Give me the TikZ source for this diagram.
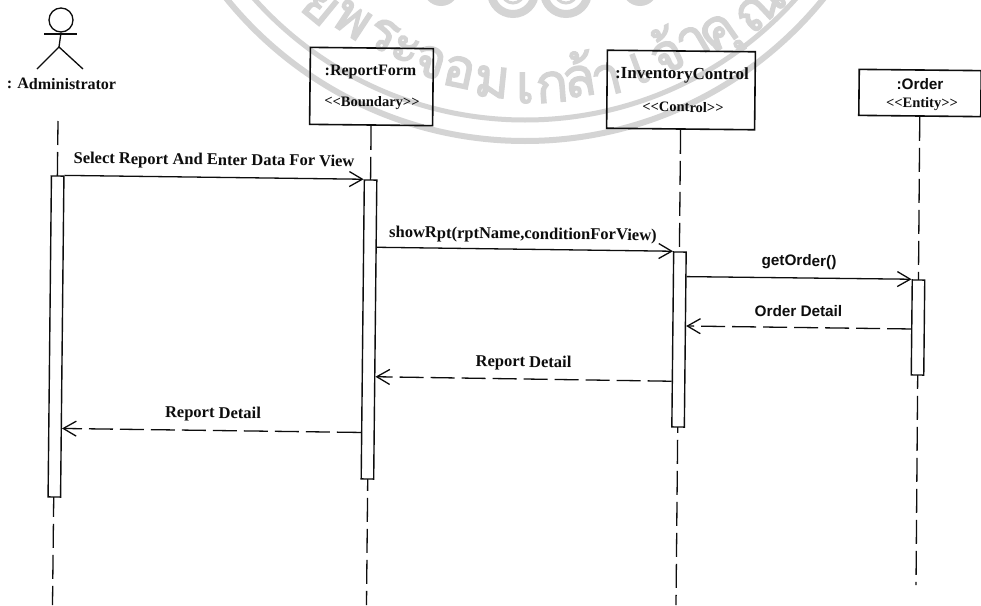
\documentclass[tikz,border=0pt]{standalone}
\usepackage{fontspec}
\setmainfont{Liberation Serif}
\newfontfamily\arialf{Liberation Sans}
\newfontfamily\thaifont[Script=Thai,FakeBold=2.5]{Loma}
\usetikzlibrary{arrows.meta,calc}
\definecolor{wmgray}{gray}{0.83}
\definecolor{ink}{gray}{0.05}
\tikzset{
  objbox/.style={draw=ink,line width=1.6pt,minimum width=#1,inner sep=0pt,rotate=-0.6},
  activation/.style={draw=ink,fill=white,line width=1.4pt,minimum width=12.5pt,inner sep=0pt,rotate=-0.6},
  lifeline/.style={draw=ink,line width=1.3pt,dash pattern=on 24pt off 7pt},
  syncmsg/.style={draw=ink,line width=1.3pt,-{Straight Barb[length=13pt,width=15pt,line width=1.3pt]}},
  retmsg/.style={syncmsg,dash pattern=on 24pt off 7pt},
  serifbig/.style={text=ink,font=\bfseries\fontsize{16}{18}\selectfont,inner sep=0pt,rotate=-0.6},
  serifbigger/.style={text=ink,font=\bfseries\fontsize{17}{19}\selectfont,inner sep=0pt,rotate=-0.6},
  serifmsg/.style={text=ink,font=\bfseries\fontsize{16.5}{18}\selectfont,inner sep=0pt,rotate=-0.6},
  serifsmall/.style={text=ink,font=\bfseries\fontsize{14.5}{16}\selectfont,inner sep=0pt,rotate=-0.6},
  sansmsg/.style={text=ink,font=\arialf\bfseries\fontsize{15.3}{17}\selectfont,inner sep=0pt,rotate=-0.6},
  wmring/.style={draw=wmgray},
  wmglyph/.style={text=wmgray,font=\thaifont\fontsize{54}{58}\selectfont,inner sep=0pt},
}
\begin{document}
\begin{tikzpicture}[x=1pt,y=-1pt]
\useasboundingbox (0,0) rectangle (981,605);
\fill[white] (0,0) rectangle (981,605);
% watermark
\draw[wmring,line width=6pt] (525,-243) circle (384);
\draw[wmring,line width=5pt] (525,-243) circle (363);
\fill[wmgray] (441,-12) circle (18);
\fill[wmgray] (640,-12) circle (18);
\draw[wmring,line width=8pt] (513,-8) circle (22);
\draw[wmring,line width=3pt] (513,-8) circle (11);
\draw[wmring,line width=8pt] (566,-8) circle (22);
\draw[wmring,line width=3pt] (566,-8) circle (11);
\foreach \x/\y/\g [count=\i] in {320/7/ย,352/20/พ,383/35/ร,405/50/ะ,430/62/จ,459/72/อ,492/82/ม,525/88/เ,552/87/ก,578/74/ล้,607/80/า,640/68/เ,665/50/จ้,693/42/า,722/38/คุ,760/8/ณ}{
  \pgfmathsetmacro\ang{atan2(\x-525,\y+243)}
  \node[wmglyph,rotate=\ang] (wm\i) at (\x,\y) {\g};
}
% actor
\node[draw=ink,line width=1.3pt,circle,minimum size=24pt,inner sep=0pt] (head) at (61,20) {};
\coordinate (armL) at (44,34);
\coordinate (armR) at (77,34);
\coordinate (hip) at (59,47);
\coordinate (footL) at (37,69);
\coordinate (footR) at (83,69);
\draw[ink,line width=1.3pt] (armL) -- (armR);
\draw[ink,line width=1.3pt] (head.south) -- (hip);
\draw[ink,line width=1.3pt] (footL) -- (hip) -- (footR);
\node[serifbig] (actorlabel) at (61.5,84) {: Administrator};
% object boxes
\node[objbox=123pt,minimum height=77pt] (boxR) at (371.5,86.5) {};
\node[objbox=148pt,minimum height=78pt] (boxI) at (681,90) {};
\node[objbox=122pt,minimum height=46pt] (boxO) at (920,93) {};
\node[serifbig] (nameR) at (370.5,72) {:ReportForm};
\node[serifsmall] (stereoR) at (372,103) {<{}<Boundary>{}>};
\node[serifbigger] (nameI) at (682,75) {:InventoryControl};
\node[serifsmall] (stereoI) at (683,107) {<{}<Control>{}>};
\node[sansmsg] (nameO) at (920,84) {:Order};
\node[serifsmall] (stereoO) at (922,104) {<{}<Entity>{}>};
% lifelines
\coordinate (actTop) at (58,121);
\coordinate (endA) at (52.5,605);
\coordinate (endR) at (366.5,605);
\coordinate (endI) at (676,605);
\coordinate (endO) at (916,585);
\draw[lifeline] (actTop) -- (endA);
\draw[lifeline] (boxR.south) -- (endR);
\draw[lifeline] (boxI.south) -- (endI);
\draw[lifeline] (boxO.south) -- (endO);
% activations
\node[activation,minimum height=321pt] (barA) at (56,336.5) {};
\node[activation,minimum height=299pt] (barR) at (369,329.5) {};
\node[activation,minimum height=175pt] (barI) at (679,339.5) {};
\node[activation,minimum height=95pt] (barO) at (918,327.5) {};
% messages
\draw[syncmsg] (barA.north east) -- (barR.north west);
\draw[syncmsg] ($(barR.north east)!0.226!(barR.south east)$) -- (barI.north west);
\draw[syncmsg] ($(barI.north east)!0.143!(barI.south east)$) -- (barO.north west);
\draw[retmsg] ($(barO.north west)!0.516!(barO.south west)$) -- ($(barI.north east)!0.423!(barI.south east)$);
\draw[retmsg] ($(barI.north west)!0.737!(barI.south west)$) -- ($(barR.north east)!0.657!(barR.south east)$);
\draw[retmsg] ($(barR.north west)!0.843!(barR.south west)$) -- ($(barA.north east)!0.785!(barA.south east)$);
\node[serifmsg] (m1) at (214,161) {Select Report And Enter Data For View};
\node[serifmsg] (m2) at (523,235) {showRpt(rptName,conditionForView)};
\node[sansmsg] (m3) at (799,262) {getOrder()};
\node[sansmsg] (m4) at (798.5,311) {Order Detail};
\node[serifmsg] (m5) at (523.5,363) {Report Detail};
\node[serifmsg] (m6) at (213,414) {Report Detail};
\end{tikzpicture}
\end{document}
